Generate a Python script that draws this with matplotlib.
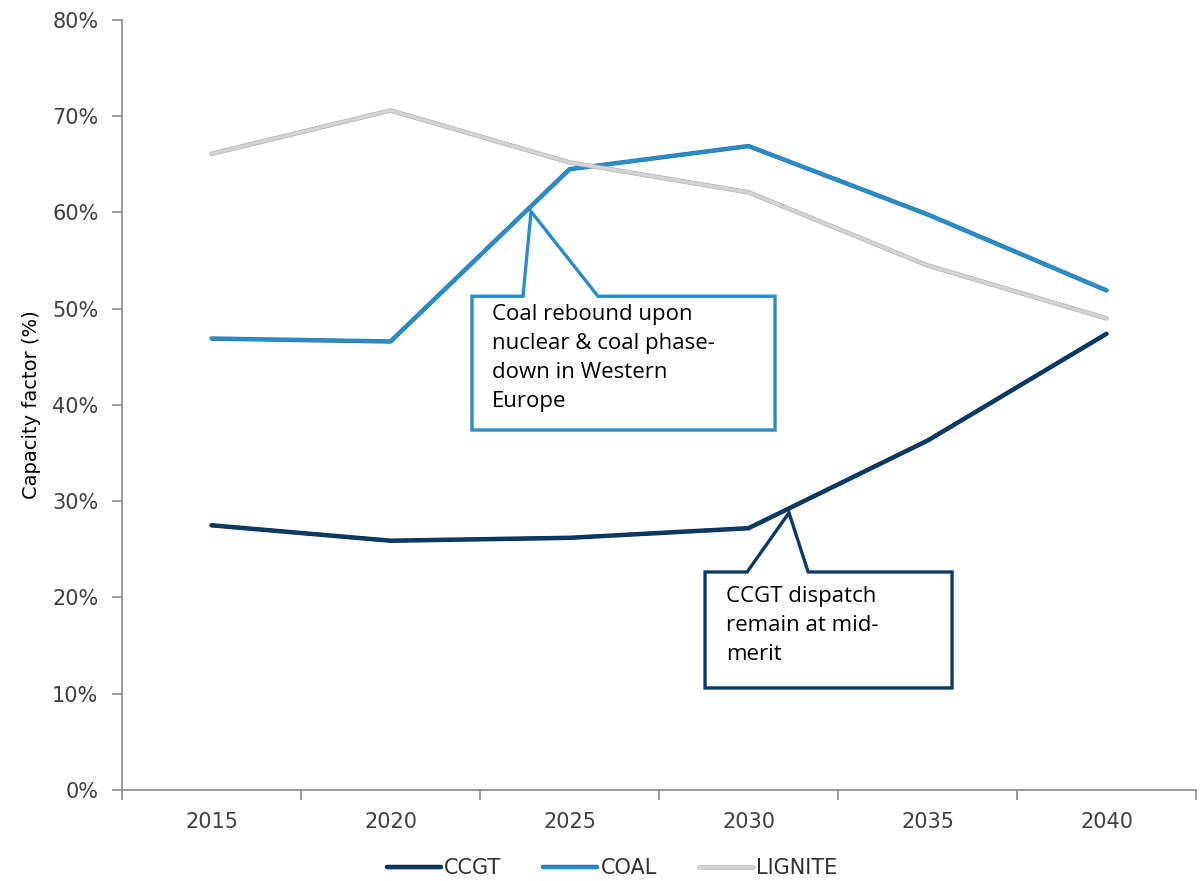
import matplotlib
matplotlib.use("Agg")
import matplotlib.pyplot as plt
import matplotlib.patheffects as pe
from matplotlib.patches import Polygon
from matplotlib.ticker import FixedLocator, PercentFormatter

# data (capacity factor, %)
years = ["2015", "2020", "2025", "2030", "2035", "2040"]
ccgt = [27.5, 25.9, 26.2, 27.2, 36.3, 47.4]
coal = [46.9, 46.6, 64.5, 66.9, 59.8, 51.9]
lignite = [66.1, 70.6, 65.2, 62.1, 54.5, 49.0]

C_CCGT = "#0C3A64"
C_COAL = "#2B8CC6"
C_LIG = "#D4D4D4"
AXC = "#8A8A8A"
TXT = "#404040"

fig = plt.figure(figsize=(12, 8.81), dpi=100)
ax = fig.add_axes([0.1017, 0.1033, 0.895, 0.874])

x = list(range(len(years)))
ax.plot(x, ccgt, color=C_CCGT, lw=2.4, solid_capstyle="round", label="CCGT",
        path_effects=[pe.Stroke(linewidth=3.2, foreground="#082a4a"), pe.Normal()])
ax.plot(x, coal, color=C_COAL, lw=2.4, solid_capstyle="round", label="COAL",
        path_effects=[pe.Stroke(linewidth=3.2, foreground="#1f73a6"), pe.Normal()])
ax.plot(x, lignite, color=C_LIG, lw=2.3, solid_capstyle="round", label="LIGNITE",
        path_effects=[pe.Stroke(linewidth=3.3, foreground="#b2b2b2"), pe.Normal()])

ax.set_xlim(-0.5, 5.5)
ax.set_ylim(0, 80)
ax.set_xticks(x)
ax.set_xticklabels(years)
ax.xaxis.set_minor_locator(FixedLocator([i - 0.5 for i in range(7)]))
ax.tick_params(axis="x", which="major", length=0, pad=16, labelsize=15, labelcolor=TXT)
ax.tick_params(axis="x", which="minor", length=7, width=1.2, color=AXC, direction="out")
ax.set_yticks(range(0, 81, 10))
ax.yaxis.set_major_formatter(PercentFormatter(decimals=0))
ax.tick_params(axis="y", length=7, width=1.2, color=AXC, direction="out",
               labelsize=15, labelcolor=TXT, pad=10)

for s in ["top", "right"]:
    ax.spines[s].set_visible(False)
for s in ["left", "bottom"]:
    ax.spines[s].set_color(AXC)
    ax.spines[s].set_linewidth(1.2)

ax.set_ylabel("Capacity factor (%)", fontsize=14, color="black",
              family=["Liberation Sans Narrow", "DejaVu Sans"], labelpad=8)


def callout(box, tip, base, color, text, tx, ty):
    x0, x1, y0, y1 = box
    pts = [(x0, y1), (base[0], y1), tip, (base[1], y1), (x1, y1),
           (x1, y0), (x0, y0)]
    ax.add_patch(Polygon(pts, closed=True, facecolor="white", edgecolor=color,
                         lw=2.4, zorder=5, joinstyle="miter"))
    ax.text(tx, ty, text, fontsize=16, va="top", ha="left", color="black",
            family=["Open Sans", "DejaVu Sans"], linespacing=1.5, zorder=6)


callout((1.455, 3.148, 37.4, 51.3), (1.785, 60.1), (1.740, 2.159), C_COAL,
        "Coal rebound upon\nnuclear & coal phase-\ndown in Western\nEurope", 1.565, 50.5)
callout((2.757, 4.137, 10.6, 22.65), (3.226, 28.8), (2.992, 3.333), C_CCGT,
        "CCGT dispatch\nremain at mid-\nmerit", 2.875, 21.2)

leg = fig.legend(loc="lower center", bbox_to_anchor=(0.51, -0.018), ncol=3,
                 frameon=False, fontsize=15, handlelength=2.6, handletextpad=0.15,
                 columnspacing=2.0)
for t in leg.get_texts():
    t.set_color("#303030")

fig.savefig("out.png", dpi=100)
